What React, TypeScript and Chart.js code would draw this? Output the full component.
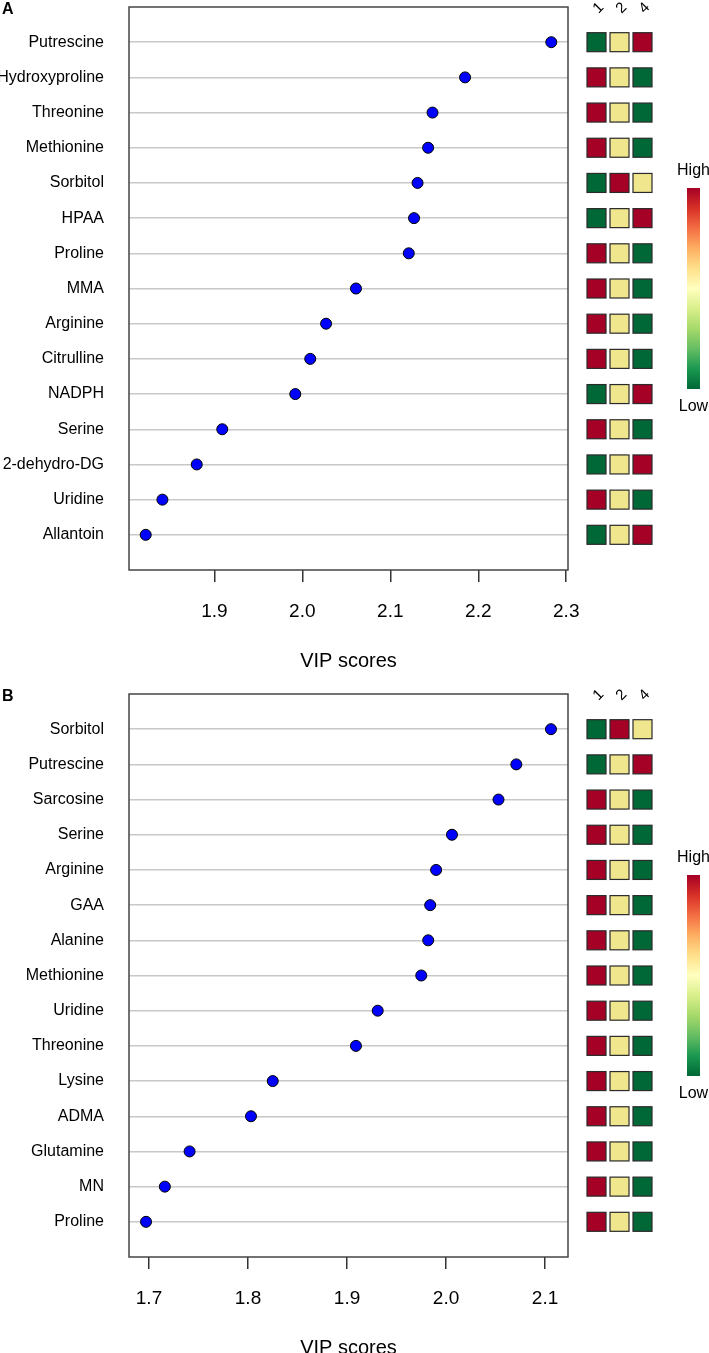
import React, { useEffect, useRef } from "react";
import { Chart, registerables } from "chart.js";

Chart.register(...registerables);

const FONT = "'Liberation Sans', Arial, Helvetica, sans-serif";

// Panel A data
const namesA = ["Putrescine", "Hydroxyproline", "Threonine", "Methionine", "Sorbitol", "HPAA", "Proline", "MMA", "Arginine", "Citrulline", "NADPH", "Serine", "2-dehydro-DG", "Uridine", "Allantoin"];
const vipA = [2.283, 2.185, 2.148, 2.143, 2.131, 2.127, 2.121, 2.061, 2.027, 2.009, 1.992, 1.909, 1.880, 1.841, 1.822];
// heat levels for groups 1, 2, 4 : 1 = high, 0 = mid, -1 = low
const heatA = [[-1, 0, 1], [1, 0, -1], [1, 0, -1], [1, 0, -1], [-1, 1, 0], [-1, 0, 1], [1, 0, -1], [1, 0, -1], [1, 0, -1], [1, 0, -1], [-1, 0, 1], [1, 0, -1], [-1, 0, 1], [1, 0, -1], [-1, 0, 1]];
const ticksA = [1.9, 2.0, 2.1, 2.2, 2.3];

// Panel B data
const namesB = ["Sorbitol", "Putrescine", "Sarcosine", "Serine", "Arginine", "GAA", "Alanine", "Methionine", "Uridine", "Threonine", "Lysine", "ADMA", "Glutamine", "MN", "Proline"];
const vipB = [2.106, 2.071, 2.053, 2.006, 1.990, 1.984, 1.982, 1.975, 1.931, 1.909, 1.825, 1.803, 1.741, 1.716, 1.697];
const heatB = [[-1, 1, 0], [-1, 0, 1], [1, 0, -1], [1, 0, -1], [1, 0, -1], [1, 0, -1], [1, 0, -1], [1, 0, -1], [1, 0, -1], [1, 0, -1], [1, 0, -1], [1, 0, -1], [1, 0, -1], [1, 0, -1], [1, 0, -1]];
const ticksB = [1.7, 1.8, 1.9, 2.0, 2.1];

const groupLabels = ["1", "2", "4"];
const legendLabels = ["High", "Low"];
const xTitle = "VIP scores";

const heatColor: Record<string, string> = { "1": "#a50026", "0": "#f0e68e", "-1": "#006837" };
const gradStops = ["#a50026", "#d73027", "#f46d43", "#fdae61", "#fee08b", "#ffffbf", "#d9ef8b", "#a6d96a", "#66bd63", "#1a9850", "#006837"];

type PanelProps = {
  letter: string;
  names: string[];
  values: number[];
  heat: number[][];
  ticks: number[];
  xMin: number;
  xMax: number;
  top: number;
};

const W = 709;
const H = 687;
const BOX_TOP = 7;
const BOX_BOTTOM = 570;
const BOX_RIGHT = 568;

function Panel({ letter, names, values, heat, ticks, xMin, xMax, top }: PanelProps) {
  const ref = useRef<HTMLCanvasElement | null>(null);
  useEffect(() => {
    if (!ref.current) return;
    const extras = {
      id: "extras",
      afterDraw(chart: any) {
        const { ctx, chartArea, scales } = chart;
        const ys = scales.y;
        ctx.save();
        // box
        ctx.strokeStyle = "#444";
        ctx.lineWidth = 1.5;
        ctx.strokeRect(chartArea.left, chartArea.top, chartArea.right - chartArea.left, chartArea.bottom - chartArea.top);
        // panel letter
        ctx.fillStyle = "#000";
        ctx.font = `bold 16px ${FONT}`;
        ctx.textAlign = "left";
        ctx.textBaseline = "middle";
        ctx.fillText(letter, 2, 10);
        // heat cells
        const cell = 19;
        const step = 23;
        const x0 = chartArea.right + 28.5;
        heat.forEach((row, i) => {
          const yc = ys.getPixelForValue(i + 1);
          row.forEach((lv, j) => {
            const xc = x0 + j * step;
            ctx.fillStyle = heatColor[String(lv)];
            ctx.fillRect(xc - cell / 2, yc - cell / 2, cell, cell);
            ctx.strokeStyle = "#2a2a2a";
            ctx.lineWidth = 1.2;
            ctx.strokeRect(xc - cell / 2, yc - cell / 2, cell, cell);
          });
        });
        // group headers
        ctx.font = `15px ${FONT}`;
        ctx.fillStyle = "#000";
        ctx.textAlign = "center";
        ctx.textBaseline = "middle";
        groupLabels.forEach((g, j) => {
          const xc = x0 + j * step + 2;
          ctx.save();
          ctx.translate(xc, 8);
          ctx.rotate(-Math.PI / 4);
          ctx.fillText(g, 0, 0);
          ctx.restore();
        });
        // color legend
        const lx = 687, lw = 13, ly0 = 188, ly1 = 389;
        const grad = ctx.createLinearGradient(0, ly0, 0, ly1);
        gradStops.forEach((c, k) => grad.addColorStop(k / (gradStops.length - 1), c));
        ctx.fillStyle = grad;
        ctx.fillRect(lx, ly0, lw, ly1 - ly0);
        ctx.fillStyle = "#000";
        ctx.font = `16px ${FONT}`;
        ctx.textAlign = "center";
        ctx.textBaseline = "middle";
        ctx.fillText(legendLabels[0], lx + lw / 2, 171);
        ctx.fillText(legendLabels[1], lx + lw / 2, 407);
        ctx.restore();
      },
    };
    const chart = new Chart(ref.current, {
      type: "scatter",
      data: {
        datasets: [
          {
            data: values.map((v, i) => ({ x: v, y: i + 1 })),
            backgroundColor: "#0000ff",
            borderColor: "#000",
            borderWidth: 1,
            pointRadius: 5.5,
            clip: false as any,
          },
        ],
      },
      options: {
        animation: false,
        responsive: false,
        devicePixelRatio: 1,
        layout: { padding: { top: BOX_TOP, left: 0, right: W - BOX_RIGHT, bottom: 0 } },
        plugins: { legend: { display: false }, tooltip: { enabled: false } },
        scales: {
          y: {
            type: "linear",
            min: 0,
            max: names.length + 1,
            reverse: true,
            afterFit: (s: any) => {
              s.width = 129;
              s.paddingTop = 0;
              s.paddingBottom = 0;
            },
            afterBuildTicks: (s: any) => { s.ticks = names.map((_, i) => ({ value: i + 1 })); },
            ticks: {
              callback: (v: any) => names[Math.round(Number(v)) - 1] ?? "",
              font: { family: FONT, size: 16 },
              color: "#000",
              padding: 25,
              autoSkip: false,
            },
            grid: { color: "#c8c8c8", lineWidth: 1.5, drawTicks: false },
            border: { display: false },
          },
          x: {
            type: "linear",
            min: xMin,
            max: xMax,
            afterFit: (s: any) => {
              s.height = H - BOX_BOTTOM;
              s.paddingLeft = 0;
              s.paddingRight = 0;
            },
            afterBuildTicks: (s: any) => { s.ticks = ticks.map((t) => ({ value: t })); },
            ticks: {
              callback: (v: any) => Number(v).toFixed(1),
              font: { family: FONT, size: 19 },
              color: "#000",
              padding: 18,
              maxRotation: 0,
              autoSkip: false,
            },
            grid: { drawOnChartArea: false, drawTicks: true, tickLength: 12, color: "#333", lineWidth: 1.5 },
            border: { display: false },
            title: {
              display: true,
              text: xTitle,
              font: { family: FONT, size: 20 },
              color: "#000",
              padding: { top: 0, bottom: 14 },
            },
          },
        },
      },
      plugins: [extras],
    });
    return () => chart.destroy();
  }, []);
  return (
    <canvas
      ref={ref}
      width={W}
      height={H}
      style={{ position: "absolute", left: 0, top, width: W, height: H }}
    />
  );
}

export default function App() {
  return (
    <div style={{ position: "absolute", left: 0, top: 0, width: W, height: 1353, overflow: "hidden", background: "#fff" }}>
      <Panel letter="A" names={namesA} values={vipA} heat={heatA} ticks={ticksA} xMin={1.803} xMax={2.302} top={0} />
      <Panel letter="B" names={namesB} values={vipB} heat={heatB} ticks={ticksB} xMin={1.6798} xMax={2.1232} top={687} />
    </div>
  );
}
